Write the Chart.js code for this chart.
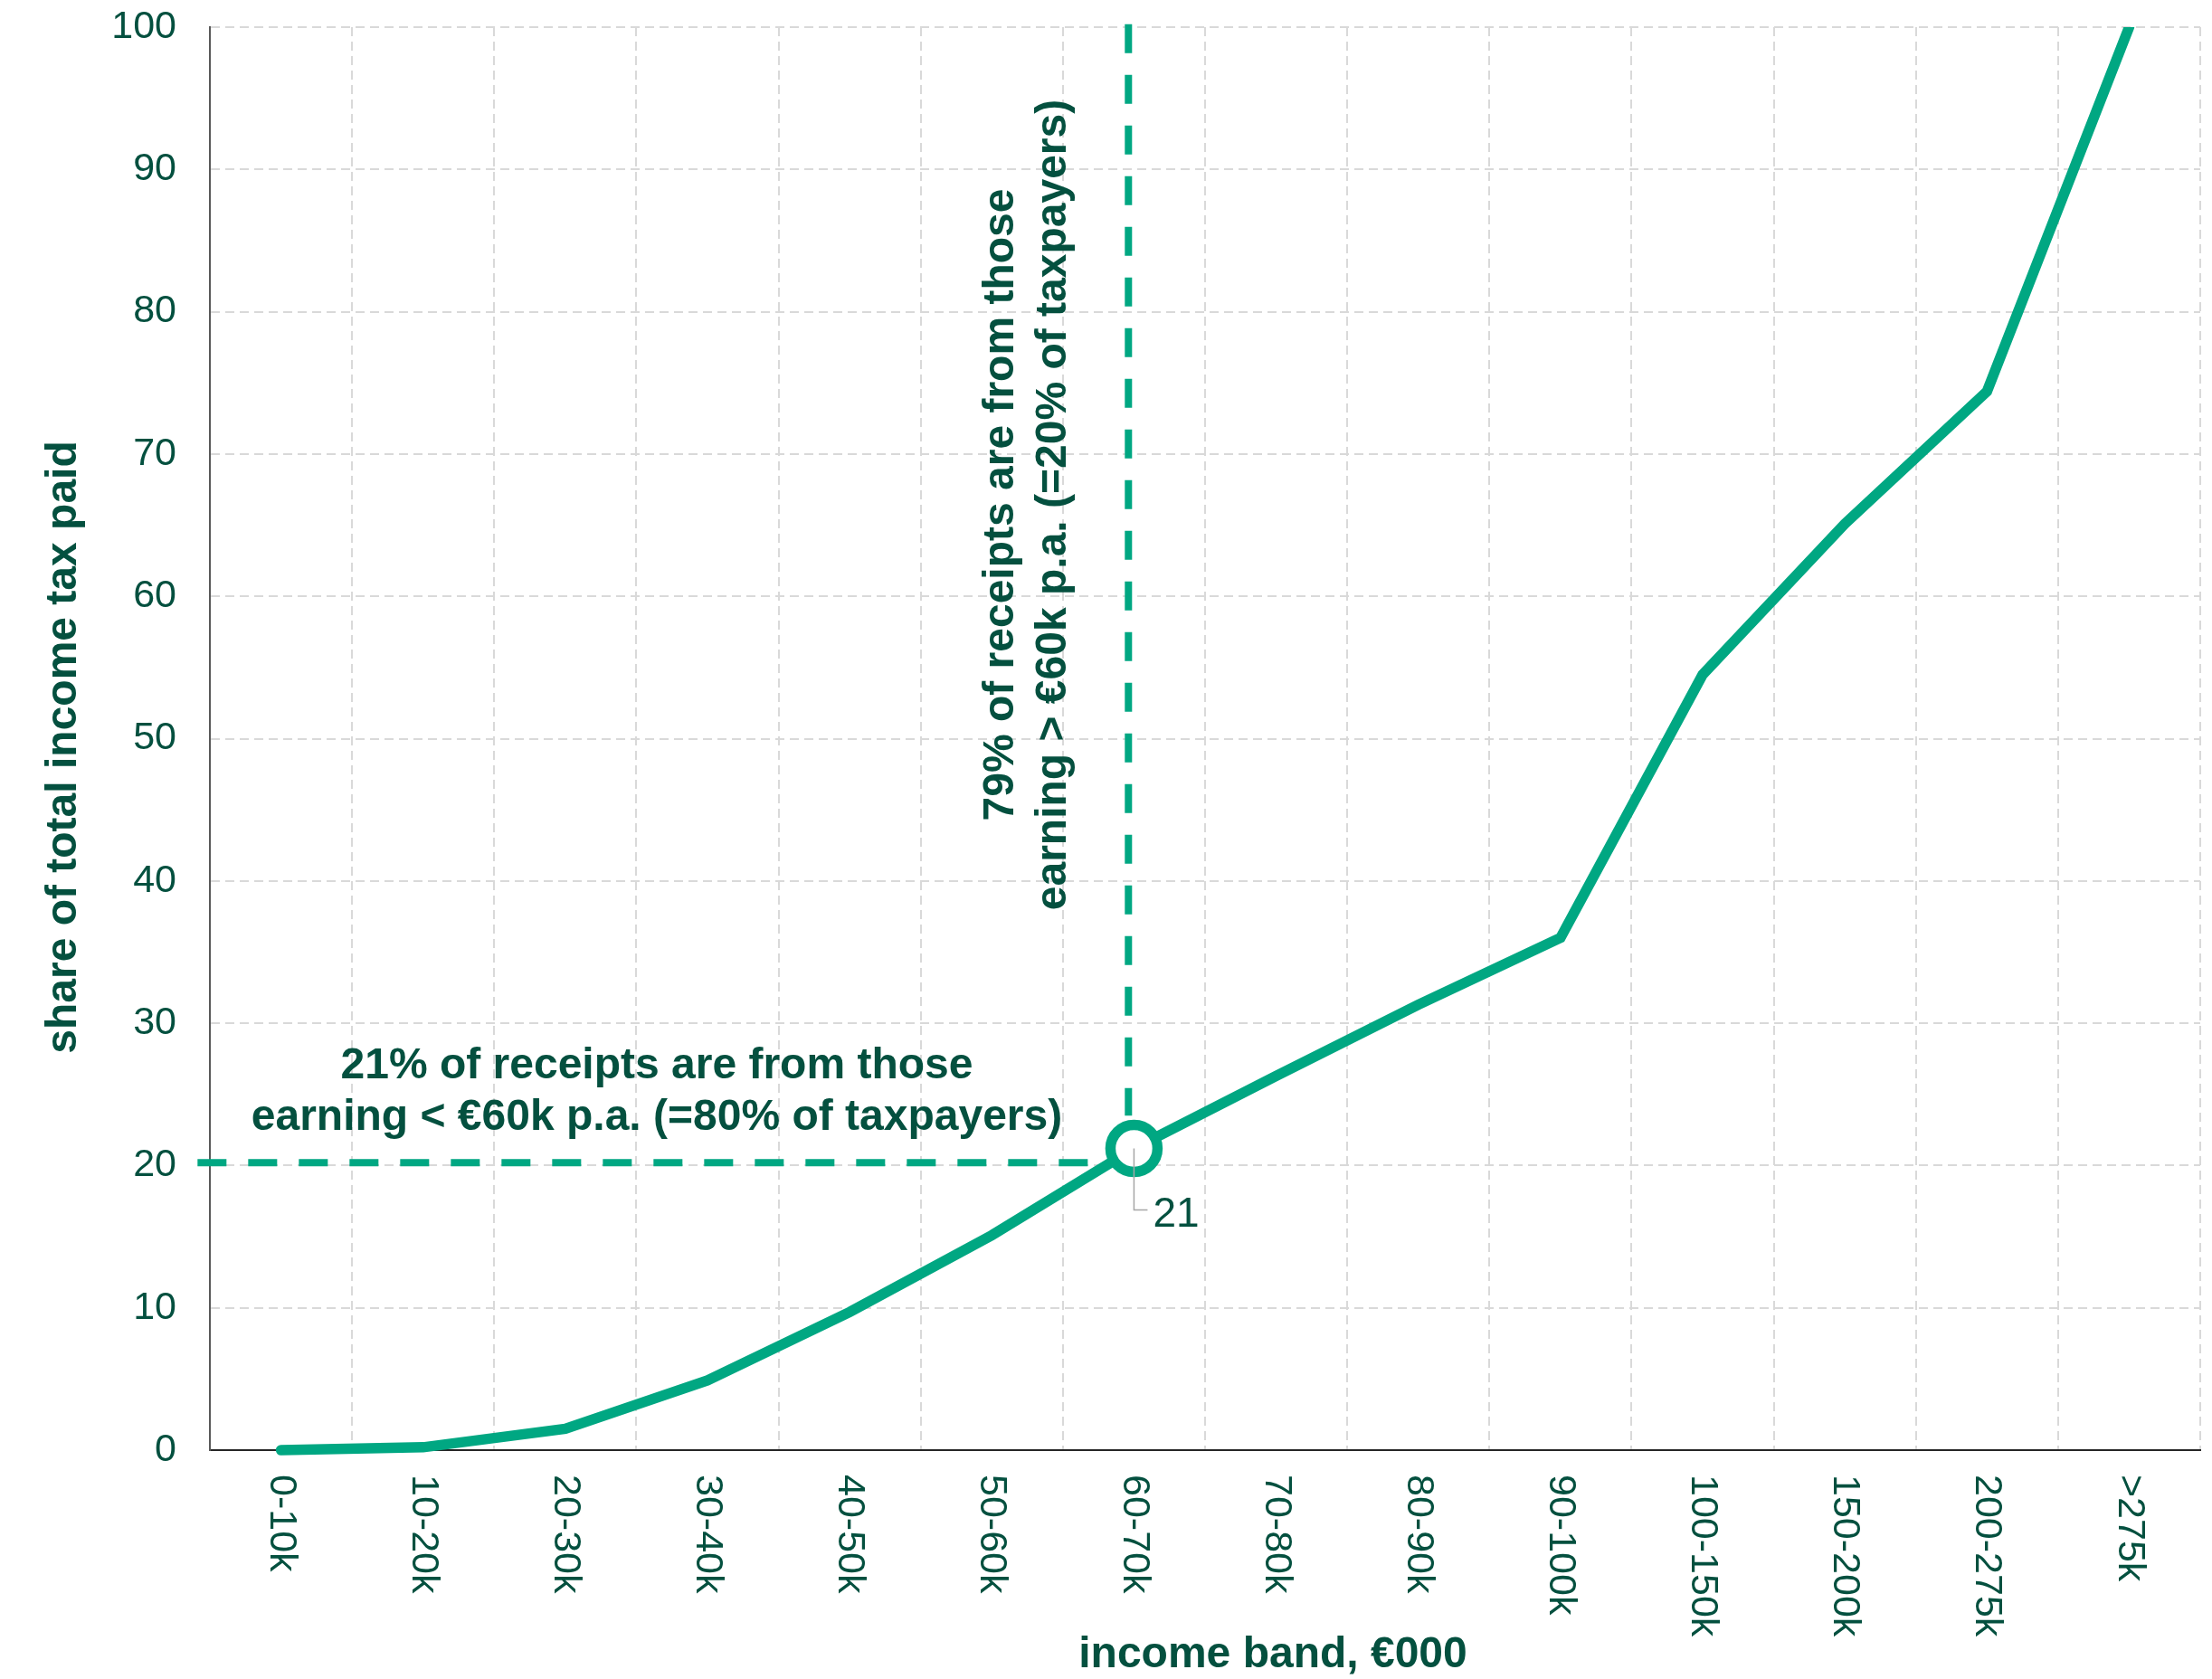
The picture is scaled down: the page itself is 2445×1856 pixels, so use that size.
<!DOCTYPE html>
<html><head><meta charset="utf-8">
<script src="https://cdn.jsdelivr.net/npm/chart.js@4/dist/chart.umd.min.js"></script>
<style>html,body{margin:0;padding:0;background:#fff;}#wrap{width:2445px;height:1856px;}</style>
</head><body><div id="wrap"><canvas id="c" width="2445" height="1856"></canvas></div>
<script>
// ---- data ----
const categories = ['0-10k','10-20k','20-30k','30-40k','40-50k','50-60k','60-70k','70-80k','80-90k','90-100k','100-150k','150-200k','200-275k','>275k'];
const cumulativeShare = [0, 0.2, 1.5, 4.9, 9.7, 15.1, 21.2, 26.3, 31.3, 36.0, 54.5, 65.1, 74.4, 100];
const yMin = 0, yMax = 100, yStep = 10;
const highlightIndex = 6;
const highlightLabel = '21';
const refHorizX = [-0.587, 5.694];
const refHorizY = [20.2, 20.2];
const refVertX = [5.961, 5.961];
const refVertY = [100.2, 23.5];
const hNote = ['21% of receipts are from those', 'earning < €60k p.a. (=80% of taxpayers)'];
const vNote = ['79% of receipts are from those', 'earning > €60k p.a. (=20% of taxpayers)'];
const yTitle = 'share of total income tax paid';
const xTitle = 'income band, €000';

// ---- style ----
const GREEN = '#00a782';
const TEXT = '#04503f';
const FONT = '"Liberation Sans", Arial, Helvetica, sans-serif';

const textPlugin = {
  id: 'texts',
  afterDraw(chart) {
    const ctx = chart.ctx;
    const xs = chart.scales.x, ys = chart.scales.y;
    ctx.save();
    ctx.fillStyle = TEXT;
    // x tick labels, rotated clockwise, reading downward
    ctx.font = '43px ' + FONT;
    ctx.textAlign = 'left';
    ctx.textBaseline = 'middle';
    categories.forEach((c, i) => {
      const x = xs.getPixelForValue(i);
      ctx.save();
      ctx.translate(x, ys.bottom + 27);
      ctx.rotate(Math.PI / 2);
      ctx.fillText(c, 0, 0);
      ctx.restore();
    });
    // axis titles
    ctx.font = 'bold 48px ' + FONT;
    ctx.textAlign = 'center';
    ctx.textBaseline = 'alphabetic';
    ctx.fillText(xTitle, 1407, 1843);
    ctx.save();
    ctx.translate(84, 826);
    ctx.rotate(-Math.PI / 2);
    ctx.fillText(yTitle, 0, 0);
    ctx.restore();
    // annotations
    ctx.fillText(hNote[0], 726, 1192);
    ctx.fillText(hNote[1], 726, 1249);
    ctx.save();
    ctx.translate(1120, 558);
    ctx.rotate(-Math.PI / 2);
    ctx.fillText(vNote[0], 0, 0);
    ctx.fillText(vNote[1], 0, 58);
    ctx.restore();
    // data label with leader line
    const px = xs.getPixelForValue(highlightIndex);
    const py = ys.getPixelForValue(cumulativeShare[highlightIndex]);
    ctx.strokeStyle = '#a6a6a6';
    ctx.lineWidth = 1.5;
    ctx.beginPath();
    ctx.moveTo(px, py);
    ctx.lineTo(px, py + 68);
    ctx.lineTo(px + 15, py + 68);
    ctx.stroke();
    ctx.font = '46px ' + FONT;
    ctx.textAlign = 'left';
    ctx.fillText(highlightLabel, px + 21, py + 86);
    ctx.restore();
  }
};

new Chart(document.getElementById('c'), {
  type: 'line',
  data: {
    labels: categories,
    datasets: [
      {
        data: cumulativeShare,
        borderColor: GREEN,
        borderWidth: 11.5,
        borderCapStyle: 'round',
        pointRadius: categories.map((_, i) => i === highlightIndex ? 26 : 0),
        pointBorderWidth: 11.5,
        pointBorderColor: GREEN,
        pointBackgroundColor: '#ffffff',
        pointHoverRadius: 0,
        clip: {left: 40, top: 0, right: 40, bottom: 20},
        tension: 0
      },
      {
        xAxisID: 'x2',
        data: refHorizX.map((x, i) => ({x, y: refHorizY[i]})),
        borderColor: GREEN,
        borderWidth: 8,
        borderDash: [32, 24],
        pointRadius: 0,
        clip: 30
      },
      {
        xAxisID: 'x2',
        data: refVertX.map((x, i) => ({x, y: refVertY[i]})),
        borderColor: GREEN,
        borderWidth: 8,
        borderDash: [32, 24],
        pointRadius: 0,
        clip: 30
      }
    ]
  },
  options: {
    responsive: false,
    devicePixelRatio: 1,
    animation: false,
    events: [],
    layout: {padding: {left: 0, right: 13, top: 30, bottom: 0}},
    plugins: {legend: {display: false}, tooltip: {enabled: false}},
    scales: {
      x: {
        type: 'category',
        offset: true,
        grid: {offset: true, color: '#d9d9d9', lineWidth: 2, drawTicks: false},
        border: {display: true, color: '#262626', width: 2, dash: [10, 6]},
        ticks: {display: false},
        afterFit(s) { s.height = 253; s.paddingLeft = 0; s.paddingRight = 0; }
      },
      x2: {
        type: 'linear',
        display: false,
        min: -0.5,
        max: categories.length - 0.5
      },
      y: {
        min: yMin,
        max: yMax,
        grid: {color: '#d9d9d9', lineWidth: 2, drawTicks: false},
        border: {display: true, color: '#595959', width: 2, dash: [10, 6]},
        ticks: {stepSize: yStep, padding: 37, color: TEXT, font: {family: FONT, size: 43}},
        afterFit(s) { s.width = 232; s.paddingTop = 0; s.paddingBottom = 0; }
      }
    }
  },
  plugins: [textPlugin]
});
</script></body></html>
